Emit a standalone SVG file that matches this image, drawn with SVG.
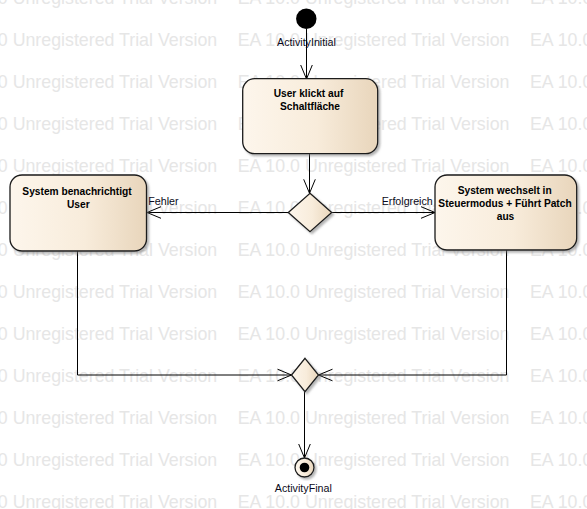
<svg xmlns="http://www.w3.org/2000/svg" xmlns:xlink="http://www.w3.org/1999/xlink" width="587" height="509" viewBox="0 0 587 509">
<style>
.wm{font-family:"Liberation Sans",Arial,sans-serif;font-size:17.8px;fill:#e6e6e6}
.nt{font-family:"Liberation Sans",Arial,sans-serif;font-size:10.2px;font-weight:bold;fill:#000;text-anchor:middle}
.lb{font-family:"Liberation Sans",Arial,sans-serif;font-size:10.7px;fill:#0a0a20}
.node{fill:url(#g1);stroke:#1a1a1a;stroke-width:1.3;filter:url(#sh)}
.conn{fill:none;stroke:#000;stroke-width:1}
</style>
<defs>
<linearGradient id="g1" x1="0" y1="0" x2="1" y2="0">
<stop offset="0" stop-color="#fdf6ec"/>
<stop offset="0.55" stop-color="#f8ecdb"/>
<stop offset="1" stop-color="#e8d5bb"/>
</linearGradient>
<filter id="sh" x="-10%" y="-10%" width="130%" height="130%">
<feDropShadow dx="2" dy="2" stdDeviation="1.3" flood-color="#777" flood-opacity="0.55"/>
</filter>
<marker id="arr" viewBox="-15 -7 16 14" markerWidth="16" markerHeight="14" refX="0" refY="0" orient="auto" markerUnits="userSpaceOnUse">
<path d="M-14,-5.8 L0,0 L-14,5.8" fill="none" stroke="#000" stroke-width="1"/>
</marker>
<g id="wmrow">
<text class="wm" x="-54.6">EA 10.0 Unregistered Trial Version</text>
<text class="wm" x="237.7">EA 10.0 Unregistered Trial Version</text>
<text class="wm" x="530">EA 10.0 Unregistered Trial Version</text>
</g>
</defs>
<rect width="587" height="509" fill="#fff"/>
<g id="watermark">
<use xlink:href="#wmrow" y="4"/>
<use xlink:href="#wmrow" y="46"/>
<use xlink:href="#wmrow" y="88"/>
<use xlink:href="#wmrow" y="130"/>
<use xlink:href="#wmrow" y="172"/>
<use xlink:href="#wmrow" y="214"/>
<use xlink:href="#wmrow" y="256"/>
<use xlink:href="#wmrow" y="298"/>
<use xlink:href="#wmrow" y="340"/>
<use xlink:href="#wmrow" y="382"/>
<use xlink:href="#wmrow" y="424"/>
<use xlink:href="#wmrow" y="466"/>
<use xlink:href="#wmrow" y="508"/>
</g>
<g id="connectors">
<path class="conn" d="M306.5,29 L306.5,79" marker-end="url(#arr)"/>
<path class="conn" d="M309.5,154 L309.5,193.3" marker-end="url(#arr)"/>
<path class="conn" d="M288.3,212.5 L147,212.5" marker-end="url(#arr)"/>
<path class="conn" d="M331.7,212.5 L435,212.5" marker-end="url(#arr)"/>
<path class="conn" d="M77.5,251 L77.5,375 L291.5,375" marker-end="url(#arr)"/>
<path class="conn" d="M506.5,250 L506.5,375 L318.5,375" marker-end="url(#arr)"/>
<path class="conn" d="M304.5,392 L304.5,458" marker-end="url(#arr)"/>
</g>
<g id="initial">
<circle cx="306.3" cy="18.8" r="10.2" fill="#000"/>
<text class="lb" x="306.5" y="46" text-anchor="middle">ActivityInitial</text>
</g>
<g id="node-user-klickt">
<rect class="node" x="242.7" y="78.7" width="135" height="75" rx="12"/>
<text class="nt" x="308.5" y="96.8">User klickt auf</text>
<text class="nt" x="310" y="110">Schaltfläche</text>
</g>
<g id="decision">
<polygon class="node" points="310,193.3 331.7,212.5 310,231.7 288.3,212.5"/>
</g>
<g id="node-benachrichtigt">
<rect class="node" x="10" y="175" width="136.5" height="76" rx="12"/>
<text class="nt" x="77" y="194.5">System benachrichtigt</text>
<text class="nt" x="78.3" y="207.5">User</text>
</g>
<g id="node-wechselt">
<rect class="node" x="435" y="175" width="141.7" height="75" rx="12"/>
<text class="nt" x="504.7" y="193.5">System wechselt in</text>
<text class="nt" x="505" y="206.5">Steuermodus + Führt Patch</text>
<text class="nt" x="505.5" y="219.5">aus</text>
</g>
<g id="labels">
<text class="lb" x="148.3" y="205">Fehler</text>
<text class="lb" x="381.7" y="204.5">Erfolgreich</text>
</g>
<g id="merge">
<polygon class="node" points="305,358.3 318.5,375 305,391.7 291.5,375"/>
</g>
<g id="final">
<circle class="node" cx="304.5" cy="467.5" r="9.5"/>
<circle cx="304.5" cy="467.5" r="4.8" fill="#000"/>
<text class="lb" x="303.3" y="491.5" text-anchor="middle">ActivityFinal</text>
</g>
</svg>
